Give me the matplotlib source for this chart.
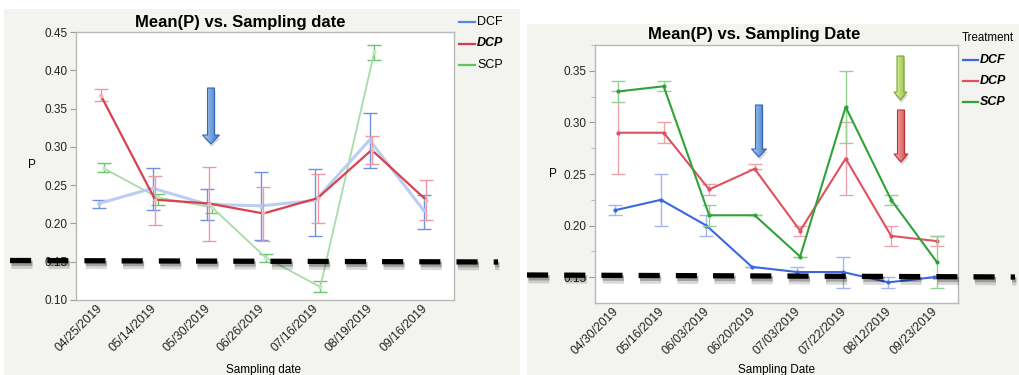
import numpy as np
import matplotlib.pyplot as plt
import matplotlib.patheffects as pe
import matplotlib.transforms as mtransforms
from matplotlib.lines import Line2D
from matplotlib.patches import Polygon, Rectangle
from matplotlib.colors import LinearSegmentedColormap

plt.rcParams['font.family'] = ['Liberation Sans', 'DejaVu Sans']

# ---- first season (left chart) ----
dates_a = ['04/25/2019', '05/14/2019', '05/30/2019', '06/26/2019',
           '07/16/2019', '08/19/2019', '09/16/2019']
dcf_a = [0.226, 0.246, 0.225, 0.223, 0.230, 0.309, 0.217]
dcf_a_lo = [0.220, 0.217, 0.205, 0.178, 0.184, 0.272, 0.193]
dcf_a_hi = [0.230, 0.273, 0.245, 0.267, 0.271, 0.344, 0.237]
dcp_a = [0.367, 0.231, 0.226, 0.213, 0.233, 0.296, 0.231]
dcp_a_lo = [0.360, 0.198, 0.177, 0.177, 0.200, 0.277, 0.204]
dcp_a_hi = [0.376, 0.262, 0.274, 0.248, 0.265, 0.314, 0.257]
scp_a = [0.272, 0.234, 0.221, 0.155, 0.117, 0.424]
scp_a_lo = [0.267, 0.224, 0.213, 0.150, 0.110, 0.414]
scp_a_hi = [0.279, 0.239, 0.227, 0.160, 0.125, 0.433]

# ---- second season (right chart) ----
dates_b = ['04/30/2019', '05/16/2019', '06/03/2019', '06/20/2019',
           '07/03/2019', '07/22/2019', '08/12/2019', '09/23/2019']
dcf_b = [0.215, 0.225, 0.200, 0.160, 0.155, 0.155, 0.145, 0.150]
dcf_b_lo = [0.210, 0.200, 0.190, 0.160, 0.150, 0.140, 0.140, 0.150]
dcf_b_hi = [0.220, 0.250, 0.210, 0.160, 0.160, 0.170, 0.150, 0.150]
dcp_b = [0.290, 0.290, 0.235, 0.255, 0.195, 0.265, 0.190, 0.185]
dcp_b_lo = [0.250, 0.280, 0.230, 0.255, 0.190, 0.230, 0.180, 0.180]
dcp_b_hi = [0.330, 0.300, 0.240, 0.260, 0.200, 0.300, 0.200, 0.190]
scp_b = [0.330, 0.335, 0.210, 0.210, 0.170, 0.315, 0.225, 0.165]
scp_b_lo = [0.320, 0.330, 0.200, 0.210, 0.170, 0.280, 0.220, 0.140]
scp_b_hi = [0.340, 0.340, 0.220, 0.210, 0.170, 0.350, 0.230, 0.190]

treatments = ['DCF', 'DCP', 'SCP']

W, H = 1019, 375
fig = plt.figure(figsize=(W / 100, H / 100), dpi=100)
fig.patch.set_facecolor('white')

# pixel-space layer behind the charts (grey panels)
bg = fig.add_axes([0, 0, 1, 1], zorder=-5)
bg.set_xlim(0, W); bg.set_ylim(H, 0); bg.axis('off')
bg.add_patch(Rectangle((4, 9), 516, H - 9, fc='#f3f3ef', ec='none'))
bg.add_patch(Rectangle((527, 24), W - 527, H - 24, fc='#f3f3ef', ec='none'))

ax1 = fig.add_axes([76 / W, 75 / H, 378 / W, 268 / H])
ax2 = fig.add_axes([595 / W, 72 / H, 363 / W, 258 / H])


def style_axes(ax, dates):
    ax.set_facecolor('white')
    for s in ax.spines.values():
        s.set_color('#b8b8b8')
        s.set_linewidth(1.0)
    ax.set_xticks(range(len(dates)))
    ax.set_xticklabels(dates, rotation=45, ha='right', va='center',
                       rotation_mode='anchor')
    off = mtransforms.ScaledTranslation(6 / 100, 0, fig.dpi_scale_trans)
    for lbl in ax.get_xticklabels():
        lbl.set_transform(lbl.get_transform() + off)
    ax.tick_params(axis='x', length=0, labelsize=8.7, pad=5, colors='#222222')
    ax.tick_params(axis='y', length=4, width=0.8, color='#9a9a9a',
                   labelsize=8.5, pad=2, labelcolor='#222222')
    ax.yaxis.set_major_formatter(plt.FormatStrFormatter('%.2f'))


def series(ax, x, y, lo, hi, line_c, err_c, lw, z, ms=3, mc=None):
    x = np.asarray(x, float)
    y = np.asarray(y)
    yerr = [y - np.asarray(lo), np.asarray(hi) - y]
    ax.errorbar(x, y, yerr=yerr, fmt='none', ecolor=err_c, elinewidth=1.0,
                capsize=5, capthick=1.0, zorder=z)
    ax.plot(x, y, color=line_c, lw=lw, marker='o', ms=ms,
            mfc=mc or line_c, mec='none', zorder=z + 0.5)


# left chart (SCP stops after August)
xa = np.arange(len(dates_a))
series(ax1, xa - 0.03, dcf_a, dcf_a_lo, dcf_a_hi, '#bccdf2', '#6f90e3', 2.2, 3)
series(ax1, xa[:len(scp_a)] + 0.06, scp_a, scp_a_lo, scp_a_hi, '#a8dba8',
       '#6cc46c', 1.3, 2, mc='#c4e6c4')
series(ax1, xa + 0.01, dcp_a, dcp_a_lo, dcp_a_hi, '#d9414f', '#eb9aa3', 1.6, 4,
       mc='#f0b8be')
style_axes(ax1, dates_a)
ax1.set_xlim(-0.45, 6.53)
ax1.set_ylim(0.10, 0.45)
ax1.set_yticks(np.arange(0.10, 0.451, 0.05))
ax1.set_ylabel('P', rotation=0, fontsize=8.5, va='center')
ax1.yaxis.set_label_coords(-0.116, 0.504)
ax1.set_xlabel('Sampling date', fontsize=8.5, va='center')
ax1.xaxis.set_label_coords(0.495, -0.262)

# right chart
xb = np.arange(len(dates_b))
series(ax2, xb - 0.03, dcf_b, dcf_b_lo, dcf_b_hi, '#3b68df', '#a3b7f0', 1.5, 3)
series(ax2, xb + 0.03, dcp_b, dcp_b_lo, dcp_b_hi, '#e0505e', '#eea3ab', 1.5, 4)
series(ax2, xb + 0.03, scp_b, scp_b_lo, scp_b_hi, '#2fa33a', '#93d293', 1.5, 5)
style_axes(ax2, dates_b)
ax2.set_xlim(-0.48, 7.5)
ax2.set_ylim(0.125, 0.375)
ax2.set_yticks(np.arange(0.15, 0.351, 0.05))
ax2.set_yticks(np.arange(0.175, 0.376, 0.05), minor=True)
ax2.tick_params(axis='y', which='minor', length=3, width=0.6, color='#b0b0b0')
ax2.set_ylabel('P', rotation=0, fontsize=8.5, va='center')
ax2.yaxis.set_label_coords(-0.116, 0.5)
ax2.set_xlabel('Sampling Date', fontsize=8.5, va='center')
ax2.xaxis.set_label_coords(0.501, -0.26)

# overlay: titles, legends, arrows and the threshold dashes
ov = fig.add_axes([0, 0, 1, 1], zorder=10)
ov.set_xlim(0, W); ov.set_ylim(H, 0); ov.axis('off')
ov.set_autoscale_on(False)

ov.text(240, 22, 'Mean(P) vs. Sampling date', ha='center', va='center',
        fontsize=12, fontweight='bold')
ov.text(754, 35, 'Mean(P) vs. Sampling Date', ha='center', va='center',
        fontsize=12, fontweight='bold')

leg_a = ['#5b83e0', '#d23c4c', '#5ec45e']
for i, (name, c) in enumerate(zip(treatments, leg_a)):
    y = 22 + i * 21.5
    ov.add_line(Line2D([459, 475], [y, y], color=c, lw=1.6))
    bold = name == 'DCP'
    ov.text(477, y, name, va='center', fontsize=9,
            fontweight='bold' if bold else 'normal',
            fontstyle='italic' if bold else 'normal')

ov.text(962, 38, 'Treatment', va='center', fontsize=8.3)
leg_b = ['#3b68df', '#e0505e', '#2fa33a']
for i, (name, c) in enumerate(zip(treatments, leg_b)):
    y = 60 + i * 21
    ov.add_line(Line2D([963, 978], [y, y], color=c, lw=1.6))
    ov.text(980, y, name, va='center', fontsize=9, fontweight='bold',
            fontstyle='italic')


def down_arrow(cx, top, tip, light, dark, edge,
               shaft_w=7, head_w=16, head_len=8):
    hs, hh = shaft_w / 2, head_w / 2
    neck = tip - head_len
    pts = [(cx - hs, top), (cx + hs, top), (cx + hs, neck), (cx + hh, neck),
           (cx, tip), (cx - hh, neck), (cx - hs, neck)]
    ov.add_patch(Polygon([(x + 1, y + 3) for x, y in pts], closed=True,
                         fc='black', ec='none', alpha=0.15))
    poly = Polygon(pts, closed=True, fc='none', ec=edge, lw=0.8, zorder=3)
    ov.add_patch(poly)
    cmap = LinearSegmentedColormap.from_list('grad', [light, dark])
    im = ov.imshow(np.linspace(0, 1, 64)[None, :], cmap=cmap,
                   extent=(cx - hh, cx + hh, tip, top), aspect='auto',
                   zorder=2, interpolation='bilinear')
    im.set_clip_path(poly)


down_arrow(211, 88, 144, '#b4d2f8', '#3f78c8', '#3568b4', head_w=17, head_len=9)
down_arrow(759, 105, 157, '#b4d2f8', '#3f78c8', '#3568b4', head_w=15)
down_arrow(900.5, 56, 100, '#e4f4b0', '#8cbc3c', '#78a830', head_w=13)
down_arrow(901, 110, 162, '#f8b4b4', '#d04444', '#b83434', head_w=14)

# thick dashed cut-off line with a soft drop shadow
dash_fx = [pe.SimpleLineShadow(offset=(1, -3), shadow_color='black', alpha=0.15,
                               linewidth=6),
           pe.SimpleLineShadow(offset=(1, -2), shadow_color='black', alpha=0.25),
           pe.Normal()]
for xs, ys in [((10, 498), (260.5, 262)), ((527, 1015), (275, 277))]:
    ov.add_line(Line2D(xs, ys, color='black', lw=3.8, dashes=(4.0, 3.05),
                       dash_capstyle='butt', path_effects=dash_fx))

ov.set_xlim(0, W); ov.set_ylim(H, 0)
fig.savefig('out.png', dpi=100)
